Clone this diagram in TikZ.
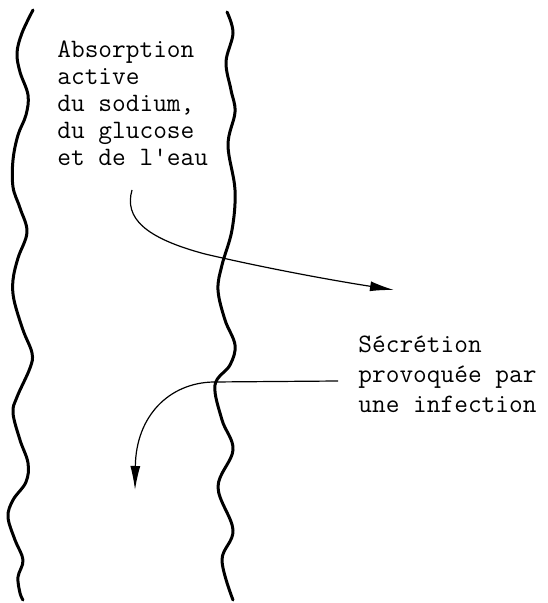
\documentclass[tikz,border=0pt]{standalone}
\usepackage{fontspec}
\usetikzlibrary{arrows.meta}
\usetikzlibrary{positioning}

\tikzset{
  wall/.style={line width=1.5pt, line join=round, line cap=round},
  flow/.style={line width=0.6pt, -{Latex[length=12pt,width=5pt]}},
  labeltext/.style={font=\ttfamily\fontsize{13.3}{13.5}\selectfont,
    align=left, inner sep=0pt, anchor=base west},
}

\begin{document}
\begin{tikzpicture}[x=0.5pt, y=-0.5pt]

      \useasboundingbox (0,0) rectangle (547,603);

      % intestinal walls
      \draw [wall] plot [smooth, tension=0.6] coordinates {
        (33,10) (22,33) (17,53) (20,72) (28,95) (26,115) (18,135)
        (13,160) (13,187) (20,208) (27,232) (18,258) (13,280) (14,300)
        (23,330) (32,353) (30,368) (17,397) (13,413) (20,440) (28,463)
        (26,482) (13,500) (8,517) (15,540) (23,560) (18,577) (20,593) (23,600)};

      \draw [wall] plot [smooth, tension=0.6] coordinates {
        (227,12) (233,33) (226,62) (231,90) (235,112) (228,145) (235,190)
        (232,230) (222,265) (218,290) (225,320) (235,345) (230,365)
        (215,385) (222,420) (233,450) (218,487) (233,530) (222,560) (233,600)};

      % base anchor sits on the last line
      \node [labeltext] (absorption) at (57,166)
      {Absorption\\active\\du sodium,\\du glucose\\et de l'eau};

      \node [labeltext, font=\ttfamily\fontsize{13.3}{15}\selectfont]
      (secretion) at (358,412)
      {Sécrétion\\provoquée par\\une infection};

      \coordinate (absin)  at (132,190);
      \coordinate (absout) at (394,290);
      \coordinate (secin)  at (338,381);
      \coordinate (secbend) at (213,382);
      \coordinate (secout) at (135,490);

      \draw [flow] (absin) .. controls (124,218) and (145,238)
      .. (205,254) .. controls (265,268) and (330,280) .. (absout);

      \draw [flow] (secin) -- (secbend)
      .. controls (170,383) and (136,415) .. (secout);

    \end{tikzpicture}
\end{document}
